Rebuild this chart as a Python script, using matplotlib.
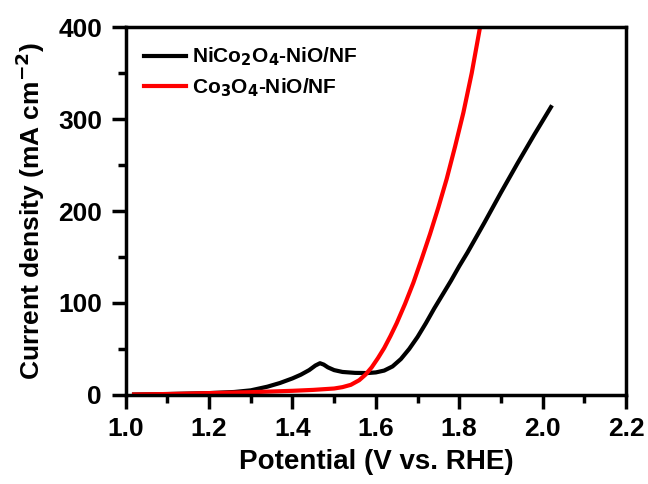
import numpy as np
import matplotlib.pyplot as plt
from matplotlib.ticker import MultipleLocator

plt.rcParams['font.family'] = ['Liberation Sans', 'DejaVu Sans']
plt.rcParams['font.weight'] = 'bold'
plt.rcParams['mathtext.default'] = 'bf'

# NiCo2O4-NiO/NF  (potential V vs RHE, current mA cm-2)
v_nico = [1.02, 1.10, 1.20, 1.26, 1.30, 1.34, 1.37, 1.40, 1.42, 1.44, 1.455,
          1.466, 1.475, 1.485, 1.50, 1.52, 1.55, 1.58, 1.60, 1.62, 1.64,
          1.66, 1.68, 1.70, 1.72, 1.74, 1.76, 1.78, 1.80, 1.82, 1.86,
          1.90, 1.94, 1.98, 2.02]
j_nico = [0.5, 1.0, 2.0, 3.2, 5.0, 9.0, 13.0, 18.0, 22.0, 27.0, 32.0,
          34.5, 33.0, 30.0, 27.0, 25.0, 24.0, 23.8, 24.5, 26.5, 31.0,
          39.0, 50.0, 63.0, 78.0, 94.0, 109.0, 124.0, 140.0, 155.0, 187.0,
          220.0, 252.0, 283.0, 313.0]

# Co3O4-NiO/NF
v_co = [1.02, 1.10, 1.20, 1.30, 1.40, 1.45, 1.50, 1.52, 1.54, 1.56, 1.575,
        1.59, 1.605, 1.62, 1.635, 1.65, 1.67, 1.69, 1.71, 1.73, 1.75,
        1.77, 1.79, 1.81, 1.83, 1.85]
j_co = [0.5, 1.0, 2.0, 3.0, 4.5, 5.5, 7.0, 8.5, 11.0, 16.0, 22.0,
        30.0, 40.0, 51.0, 64.0, 78.0, 99.0, 122.0, 148.0, 175.0, 204.0,
        235.0, 270.0, 307.0, 350.0, 400.0]

fig = plt.figure(figsize=(6.48, 4.84), dpi=100)
ax = fig.add_axes([0.194, 0.184, 0.772, 0.760])

ax.plot(v_nico, j_nico, color='black', lw=3.0, label='NiCo$_2$O$_4$-NiO/NF')
ax.plot(v_co, j_co, color='#ff0000', lw=3.0, label='Co$_3$O$_4$-NiO/NF')

ax.set_xlim(1.0, 2.2)
ax.set_ylim(0, 400)
ax.xaxis.set_major_locator(MultipleLocator(0.2))
ax.xaxis.set_minor_locator(MultipleLocator(0.1))
ax.yaxis.set_major_locator(MultipleLocator(100))
ax.yaxis.set_minor_locator(MultipleLocator(50))
ax.xaxis.set_major_formatter(plt.FormatStrFormatter('%.1f'))

for s in ax.spines.values():
    s.set_linewidth(2.5)
ax.tick_params(which='major', direction='out', length=10, width=2.5,
               labelsize=19, top=False, right=False)
ax.tick_params(axis='x', which='major', pad=6)
ax.tick_params(axis='y', which='major', pad=7)
ax.tick_params(which='minor', direction='out', length=6, width=2.5,
               top=False, right=False)
for lab in ax.get_xticklabels() + ax.get_yticklabels():
    lab.set_fontweight('bold')

ax.set_xlabel('Potential (V vs. RHE)', fontsize=20, fontweight='bold', labelpad=6)
ax.set_ylabel('Current density (mA cm$^{-2}$)', fontsize=19, fontweight='bold', labelpad=8)

leg = ax.legend(loc='upper left', frameon=False, fontsize=15, handlelength=2.0,
                borderaxespad=0.5, handletextpad=0.3, labelspacing=0.4)
for t in leg.get_texts():
    t.set_fontweight('bold')

fig.savefig('out.png', dpi=100)
